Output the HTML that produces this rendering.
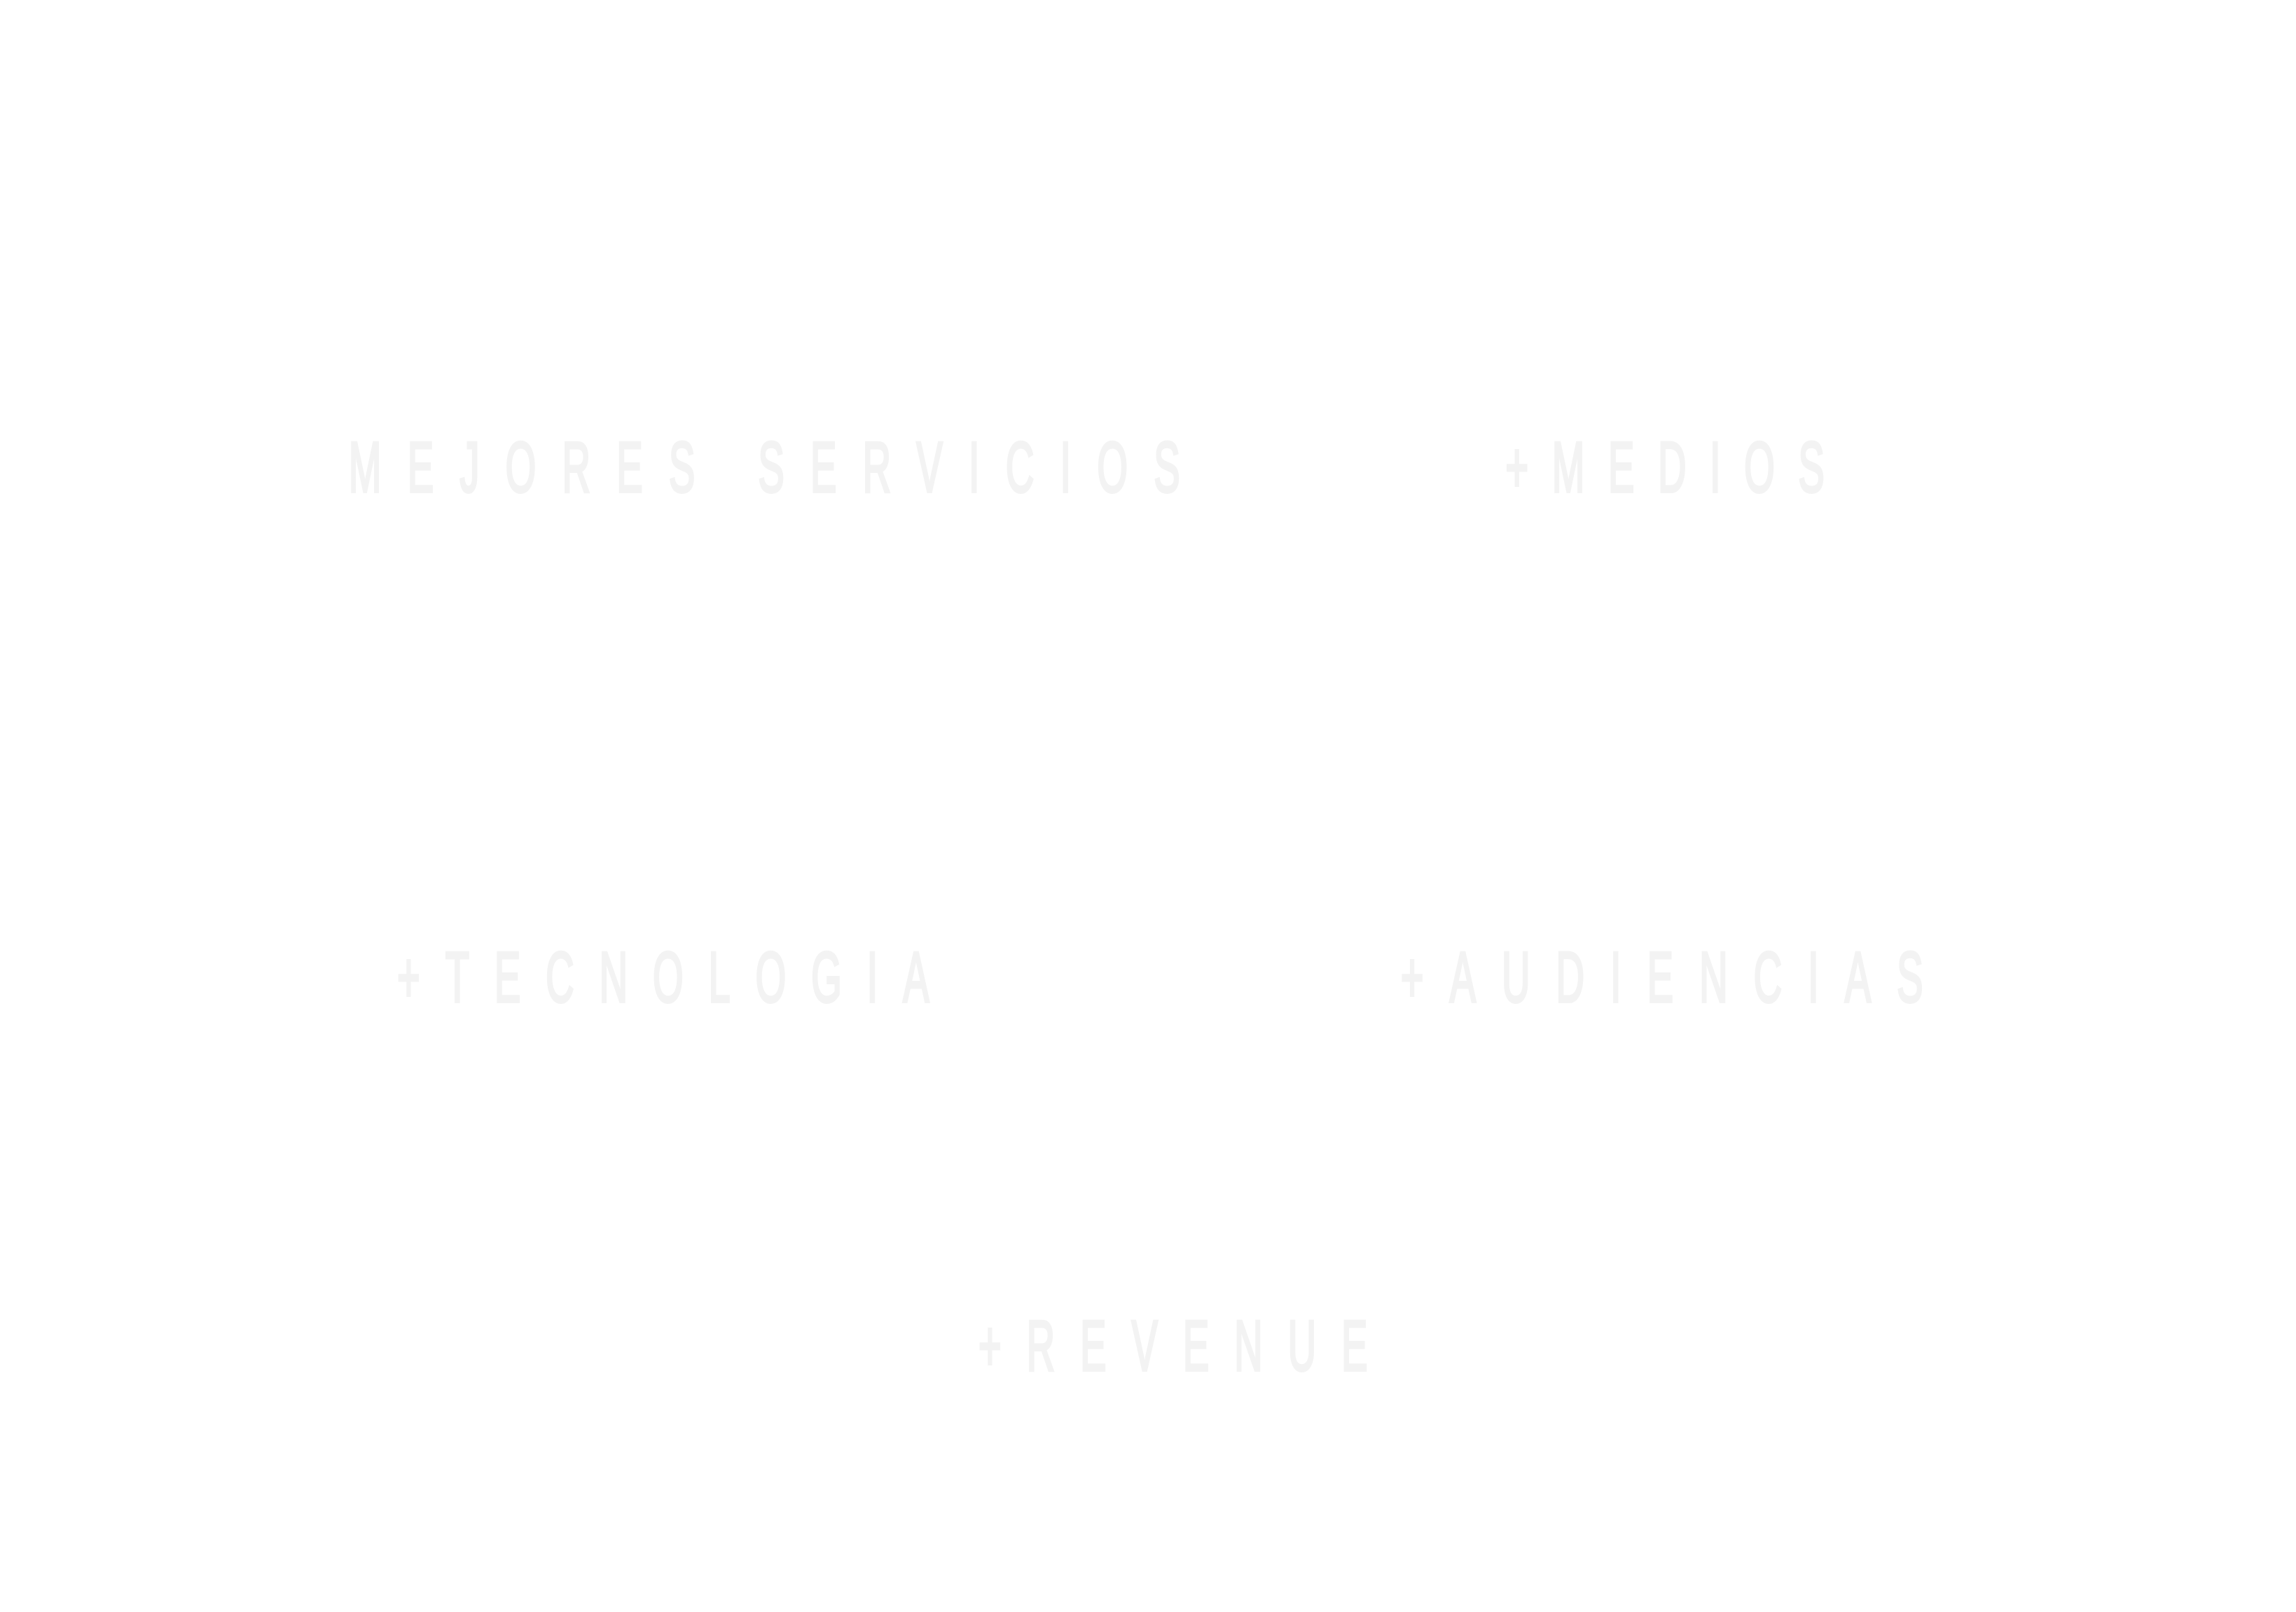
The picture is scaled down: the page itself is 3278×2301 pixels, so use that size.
<!DOCTYPE html>
<html><head><meta charset="utf-8"><style>
html,body{margin:0;padding:0;background:#fff;width:3278px;height:2301px;overflow:hidden}
svg{display:block}
text{font-family:"Liberation Sans",sans-serif;font-size:102px;fill:#f3f3f3;stroke:#f3f3f3;stroke-width:4px}
</style></head><body>
<svg width="3278" height="2301" viewBox="0 0 3278 2301" xmlns="http://www.w3.org/2000/svg">
<g transform="scale(0.55,1)">
<text x="905" y="702" textLength="2158" lengthAdjust="spacing">MEJORES SERVICIOS</text>
<text x="3908" y="702" textLength="828" lengthAdjust="spacing">+MEDIOS</text>
<text x="1031" y="1430" textLength="1381" lengthAdjust="spacing">+TECNOLOGIA</text>
<text x="3636" y="1430" textLength="1356" lengthAdjust="spacing">+AUDIENCIAS</text>
<text x="2540" y="1956" textLength="1010" lengthAdjust="spacing">+REVENUE</text>
</g>
</svg>
</body></html>
